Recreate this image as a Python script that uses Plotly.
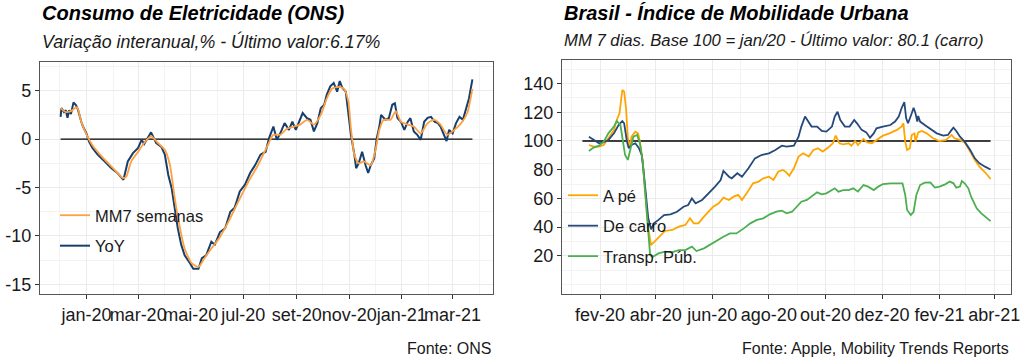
import pandas as pd
import plotly.graph_objects as go

# ---------------- Left panel: Consumo de Eletricidade (ONS) ----------------
yoy_dates = [
    "2019-12-02", "2019-12-03", "2019-12-06", "2019-12-08", "2019-12-10", "2019-12-12", "2019-12-14",
    "2019-12-17", "2019-12-20", "2019-12-22", "2019-12-26", "2019-12-28", "2020-01-01", "2020-01-04",
    "2020-01-08", "2020-01-14", "2020-01-22", "2020-01-30", "2020-02-06", "2020-02-13", "2020-02-18",
    "2020-02-24", "2020-03-01", "2020-03-05", "2020-03-08", "2020-03-12", "2020-03-16", "2020-03-22",
    "2020-03-28", "2020-04-01", "2020-04-05", "2020-04-09", "2020-04-12", "2020-04-16", "2020-04-20",
    "2020-04-24", "2020-04-30", "2020-05-04", "2020-05-10", "2020-05-14", "2020-05-19", "2020-05-25",
    "2020-05-29", "2020-06-04", "2020-06-10", "2020-06-16", "2020-06-21", "2020-06-27", "2020-07-03",
    "2020-07-09", "2020-07-15", "2020-07-21", "2020-07-27", "2020-07-31", "2020-08-05", "2020-08-09",
    "2020-08-13", "2020-08-18", "2020-08-23", "2020-08-27", "2020-08-31", "2020-09-03", "2020-09-08",
    "2020-09-13", "2020-09-17", "2020-09-21", "2020-09-25", "2020-09-29", "2020-10-03", "2020-10-06",
    "2020-10-10", "2020-10-14", "2020-10-18", "2020-10-21", "2020-10-24", "2020-10-28", "2020-10-31",
    "2020-11-03", "2020-11-07", "2020-11-09", "2020-11-12", "2020-11-16", "2020-11-20", "2020-11-23",
    "2020-11-26", "2020-11-30", "2020-12-03", "2020-12-06", "2020-12-08", "2020-12-13", "2020-12-17",
    "2020-12-21", "2020-12-24", "2020-12-27", "2020-12-31", "2021-01-04", "2021-01-08", "2021-01-11",
    "2021-01-15", "2021-01-19", "2021-01-23", "2021-01-27", "2021-01-31", "2021-02-04", "2021-02-08",
    "2021-02-12", "2021-02-15", "2021-02-19", "2021-02-22", "2021-02-25", "2021-03-01", "2021-03-05",
    "2021-03-09", "2021-03-13", "2021-03-17", "2021-03-20", "2021-03-24",
]
yoy_values = [
    2.3, 3.2, 2.8, 3.0, 2.2, 3.0, 2.6,
    3.8, 3.5, 3.1, 1.8, 1.3, 0.6, -0.25,
    -0.9, -1.6, -2.3, -3.0, -3.5, -4.2, -2.3,
    -1.45, -0.9, -0.07, -0.5, 0.1, 0.7, -0.4,
    -0.8, -1.6, -3.7, -5.1, -7.1, -9.2, -10.9,
    -12.0, -12.8, -13.4, -13.4, -12.3, -12.0, -10.6,
    -10.9, -9.6, -9.2, -7.5, -7.1, -5.4, -4.7,
    -3.5, -2.66, -1.6, -1.3, 0.1, 1.3, -0.07,
    0.6, 1.66, 0.96, 1.8, 0.96, 1.66, 2.7,
    2.17, 2.0, 0.8, 1.66, 3.2, 3.55, 4.6,
    5.45, 5.8, 4.9, 6.0, 5.3, 4.9, 2.86,
    0.45, -1.6, -3.0, -2.5, -1.3, -2.7, -3.5,
    -2.7, -2.0, 0.1, 1.3, 2.5, 2.0, 2.17,
    3.55, 3.7, 2.17, 1.8, 0.96, 1.8, 2.17,
    0.8, 0.45, -0.07, 1.8, 2.2, 2.3, 1.8,
    1.66, 1.3, 0.45, -0.2, 0.96, 0.6, 1.66,
    2.3, 2.0, 3.2, 4.2, 6.17,
]

mm7_dates = [
    "2019-12-02", "2019-12-08", "2019-12-14", "2019-12-21", "2019-12-26", "2020-01-02", "2020-01-10",
    "2020-01-22", "2020-02-03", "2020-02-12", "2020-02-16", "2020-02-22", "2020-03-01", "2020-03-08",
    "2020-03-16", "2020-03-24", "2020-04-01", "2020-04-07", "2020-04-12", "2020-04-18", "2020-04-24",
    "2020-05-02", "2020-05-10", "2020-05-17", "2020-05-25", "2020-06-04", "2020-06-14", "2020-06-25",
    "2020-07-07", "2020-07-18", "2020-07-28", "2020-08-05", "2020-08-13", "2020-08-21", "2020-08-29",
    "2020-09-05", "2020-09-13", "2020-09-21", "2020-09-29", "2020-10-06", "2020-10-12", "2020-10-20",
    "2020-10-26", "2020-10-31", "2020-11-03", "2020-11-07", "2020-11-12", "2020-11-18", "2020-11-26",
    "2020-12-02", "2020-12-06", "2020-12-11", "2020-12-19", "2020-12-25", "2020-12-31", "2021-01-08",
    "2021-01-15", "2021-01-23", "2021-01-31", "2021-02-08", "2021-02-15", "2021-02-23", "2021-03-03",
    "2021-03-11", "2021-03-18", "2021-03-24",
]
mm7_values = [
    3.2, 2.8, 2.9, 3.3, 1.8, 0.3, -0.9,
    -2.1, -3.2, -4.0, -3.9, -2.3, -1.3, -0.4,
    0.3, -0.4, -1.1, -2.7, -5.8, -8.9, -11.3,
    -12.8, -13.2, -12.3, -11.3, -10.1, -8.5, -6.5,
    -4.4, -2.7, -0.9, 0.45, 0.45, 1.1, 1.3,
    1.5, 2.0, 1.5, 2.5, 4.2, 5.2, 5.4,
    5.2, 3.9, 1.1, -1.6, -2.5, -2.3, -2.7,
    -0.9, 0.96, 2.0, 2.0, 2.9, 1.8, 1.5,
    1.3, 0.6, 1.66, 2.0, 1.5, 0.45, 0.96,
    1.66, 2.7, 5.2,
]
ons_reference = 0
ons_ticks = ["2020-01-01", "2020-03-01", "2020-05-01", "2020-07-01", "2020-09-01",
             "2020-11-01", "2021-01-01", "2021-03-01"]
ons_ticklabels = ["jan-20", "mar-20", "mai-20", "jul-20", "set-20", "nov-20", "jan-21", "mar-21"]
ons_yticks = [-15, -10, -5, 0, 5]
ons_yticklabels = ["-15", "-10", "-5", "0", "5"]

# ---------------- Right panel: Mobilidade (Apple) ----------------
mob_period = ["2020-01-13", "2021-03-28"]
mob_reference = 100

walk_dates = [
    "2020-01-20", "2020-01-25", "2020-01-31", "2020-02-05", "2020-02-10", "2020-02-16", "2020-02-19",
    "2020-02-22", "2020-02-25", "2020-02-27", "2020-02-29", "2020-03-02", "2020-03-04", "2020-03-06",
    "2020-03-10", "2020-03-13", "2020-03-15", "2020-03-18", "2020-03-21", "2020-03-24", "2020-03-27",
    "2020-04-01", "2020-04-06", "2020-04-11", "2020-04-19", "2020-04-26", "2020-05-03", "2020-05-08",
    "2020-05-12", "2020-05-17", "2020-05-23", "2020-05-28", "2020-06-02", "2020-06-08", "2020-06-13",
    "2020-06-19", "2020-06-24", "2020-06-29", "2020-07-03", "2020-07-08", "2020-07-15", "2020-07-21",
    "2020-07-26", "2020-08-01", "2020-08-06", "2020-08-11", "2020-08-16", "2020-08-19", "2020-08-23",
    "2020-08-28", "2020-09-02", "2020-09-07", "2020-09-13", "2020-09-18", "2020-09-23", "2020-09-28",
    "2020-10-04", "2020-10-09", "2020-10-12", "2020-10-16", "2020-10-20", "2020-10-26", "2020-10-29",
    "2020-11-02", "2020-11-05", "2020-11-11", "2020-11-15", "2020-11-20", "2020-11-25", "2020-12-02",
    "2020-12-09", "2020-12-17", "2020-12-22", "2020-12-24", "2020-12-26", "2020-12-28", "2020-12-31",
    "2021-01-02", "2021-01-05", "2021-01-06", "2021-01-09", "2021-01-13", "2021-01-18", "2021-01-25",
    "2021-02-01", "2021-02-08", "2021-02-14", "2021-02-17", "2021-02-23", "2021-02-28", "2021-03-06",
    "2021-03-11", "2021-03-16", "2021-03-22", "2021-03-28",
]
walk_values = [
    97.2, 96.0, 96.0, 97.2, 101.9, 107.7, 114.6,
    119.3, 135.5, 134.4, 122.8, 101.9, 96.0, 103.0,
    106.5, 105.3, 99.5, 85.6, 62.4, 39.1, 27.5,
    31.0, 34.5, 37.3, 38.0, 40.3, 41.5, 46.1,
    42.6, 42.6, 47.3, 50.7, 54.2, 56.6, 60.5,
    58.9, 61.2, 62.4, 58.9, 63.5, 70.5, 71.7,
    74.0, 75.1, 72.8, 78.6, 79.8, 78.6, 75.8,
    81.0, 89.1, 91.4, 89.1, 93.7, 94.9, 92.6,
    95.4, 98.4, 103.7, 98.4, 97.7, 98.4, 96.7,
    100.0, 97.2, 101.4, 99.0, 98.4, 100.7, 103.7,
    105.3, 107.7, 110.0, 112.3, 99.5, 93.7, 94.9,
    104.2, 105.3, 99.5, 106.0, 107.0, 105.3, 101.9,
    100.0, 100.7, 104.2, 101.9, 100.7, 99.0, 92.6,
    86.8, 82.1, 78.2, 73.5,
]

car_dates = [
    "2020-01-20", "2020-01-25", "2020-01-31", "2020-02-05", "2020-02-10", "2020-02-16", "2020-02-21",
    "2020-02-25", "2020-02-27", "2020-03-01", "2020-03-03", "2020-03-06", "2020-03-10", "2020-03-14",
    "2020-03-17", "2020-03-19", "2020-03-22", "2020-03-24", "2020-03-27", "2020-03-30", "2020-04-04",
    "2020-04-10", "2020-04-17", "2020-04-24", "2020-05-01", "2020-05-06", "2020-05-10", "2020-05-14",
    "2020-05-21", "2020-05-28", "2020-06-04", "2020-06-10", "2020-06-13", "2020-06-19", "2020-06-22",
    "2020-06-28", "2020-07-03", "2020-07-10", "2020-07-17", "2020-07-24", "2020-08-01", "2020-08-08",
    "2020-08-15", "2020-08-20", "2020-08-28", "2020-09-02", "2020-09-05", "2020-09-09", "2020-09-13",
    "2020-09-16", "2020-09-22", "2020-09-27", "2020-10-02", "2020-10-08", "2020-10-11", "2020-10-14",
    "2020-10-17", "2020-10-22", "2020-10-27", "2020-11-01", "2020-11-04", "2020-11-09", "2020-11-14",
    "2020-11-18", "2020-11-22", "2020-11-25", "2020-12-02", "2020-12-10", "2020-12-15", "2020-12-19",
    "2020-12-22", "2020-12-25", "2020-12-27", "2020-12-29", "2021-01-02", "2021-01-04", "2021-01-06",
    "2021-01-08", "2021-01-09", "2021-01-11", "2021-01-16", "2021-01-22", "2021-01-29", "2021-02-05",
    "2021-02-10", "2021-02-14", "2021-02-16", "2021-02-19", "2021-02-23", "2021-02-28", "2021-03-06",
    "2021-03-11", "2021-03-16", "2021-03-22", "2021-03-28",
]
car_values = [
    103.0, 100.7, 98.4, 99.1, 100.7, 105.3, 111.1,
    113.9, 112.3, 99.5, 94.9, 97.2, 98.4, 94.9,
    90.2, 78.6, 60.0, 46.1, 38.5, 42.6, 45.0,
    48.4, 48.9, 50.7, 54.2, 55.4, 60.0, 56.6,
    58.9, 63.5, 68.2, 72.8, 79.1, 75.1, 74.0,
    77.5, 75.1, 81.0, 87.9, 90.2, 91.4, 93.7,
    96.7, 96.0, 96.7, 103.0, 110.0, 117.0, 113.5,
    110.0, 110.0, 107.0, 106.5, 110.0, 117.0, 120.4,
    114.6, 110.0, 110.0, 114.6, 112.3, 107.7, 106.0,
    102.3, 105.3, 108.8, 110.0, 111.1, 113.5, 117.0,
    122.8, 127.0, 115.8, 112.3, 119.3, 123.2, 119.3,
    113.5, 117.4, 113.5, 111.1, 108.4, 105.3, 103.7,
    104.2, 107.7, 109.3, 107.0, 103.0, 99.5, 93.7,
    87.9, 84.4, 82.1, 80.1,
]

transit_dates = [
    "2020-01-20", "2020-01-25", "2020-01-31", "2020-02-05", "2020-02-10", "2020-02-16", "2020-02-19",
    "2020-02-23", "2020-02-26", "2020-02-28", "2020-03-02", "2020-03-05", "2020-03-08", "2020-03-12",
    "2020-03-15", "2020-03-18", "2020-03-21", "2020-03-24", "2020-03-26", "2020-03-29", "2020-04-04",
    "2020-04-11", "2020-04-18", "2020-04-26", "2020-05-03", "2020-05-10", "2020-05-15", "2020-05-23",
    "2020-05-30", "2020-06-06", "2020-06-13", "2020-06-20", "2020-06-27", "2020-07-05", "2020-07-12",
    "2020-07-19", "2020-07-26", "2020-08-02", "2020-08-09", "2020-08-15", "2020-08-20", "2020-08-26",
    "2020-08-31", "2020-09-05", "2020-09-11", "2020-09-16", "2020-09-22", "2020-09-27", "2020-10-02",
    "2020-10-08", "2020-10-11", "2020-10-15", "2020-10-20", "2020-10-26", "2020-10-31", "2020-11-05",
    "2020-11-11", "2020-11-16", "2020-11-22", "2020-11-27", "2020-12-02", "2020-12-10", "2020-12-17",
    "2020-12-23", "2020-12-26", "2020-12-28", "2021-01-01", "2021-01-04", "2021-01-07", "2021-01-11",
    "2021-01-16", "2021-01-22", "2021-01-27", "2021-02-01", "2021-02-07", "2021-02-12", "2021-02-16",
    "2021-02-19", "2021-02-23", "2021-02-25", "2021-02-28", "2021-03-04", "2021-03-07", "2021-03-13",
    "2021-03-18", "2021-03-24", "2021-03-28",
]
transit_values = [
    93.0, 95.4, 96.7, 99.5, 105.3, 110.0, 113.9,
    111.1, 98.4, 90.2, 86.8, 96.0, 103.0, 104.2,
    98.4, 85.6, 60.0, 36.8, 20.5, 19.4, 21.7,
    22.9, 22.4, 24.0, 24.0, 26.4, 23.3, 25.2,
    28.0, 31.0, 33.3, 35.6, 35.6, 39.1, 42.6,
    45.0, 46.1, 48.9, 50.7, 51.5, 49.6, 50.7,
    54.2, 57.7, 58.9, 61.2, 64.2, 62.8, 63.5,
    65.8, 67.0, 64.7, 65.8, 65.8, 67.0, 64.7,
    69.3, 68.2, 65.8, 68.2, 70.0, 70.5, 70.5,
    70.5, 62.4, 51.9, 48.4, 50.7, 62.4, 69.3,
    71.0, 71.2, 67.5, 68.2, 69.8, 71.7, 70.5,
    67.5, 68.2, 72.1, 70.5, 67.0, 61.2, 53.1,
    49.6, 46.6, 44.2,
]
mob_ticks = ["2020-02-01", "2020-04-01", "2020-06-01", "2020-08-01", "2020-10-01",
             "2020-12-01", "2021-02-01", "2021-04-01"]
mob_ticklabels = ["fev-20", "abr-20", "jun-20", "ago-20", "out-20", "dez-20", "fev-21", "abr-21"]
mob_yticks = [20, 40, 60, 80, 100, 120, 140]
mob_yticklabels = ["20", "40", "60", "80", "100", "120", "140"]

# ---------------- styling ----------------
W, H = 1024, 363
FONT = "Arial, Liberation Sans, sans-serif"
TXT = "#1a1a1a"
ORANGE_L = "#FFA040"
BLUE_L = "#163F6E"
ORANGE_R = "#FFA500"
BLUE_R = "#25497A"
GREEN_R = "#4CAF50"
GRID = "#EBEBEB"
GRID_MINOR = "#F3F3F3"
BORDER = "#555555"


def px(x):
    return x / W


def py(y):
    return 1 - y / H


def expanded(dates, frac=0.05):
    d = pd.to_datetime(pd.Series(dates))
    span = d.max() - d.min()
    return [d.min() - span * frac, d.max() + span * frac]


fig = go.Figure()

# left panel
fig.add_trace(go.Scatter(x=[yoy_dates[0], yoy_dates[-1]], y=[ons_reference, ons_reference],
                         mode="lines", line=dict(color="black", width=1.4),
                         showlegend=False, hoverinfo="skip", xaxis="x", yaxis="y"))
fig.add_trace(go.Scatter(x=yoy_dates, y=yoy_values, mode="lines", name="YoY",
                         line=dict(color=BLUE_L, width=2), legend="legend", legendgroup="yoy",
                         legendrank=2, xaxis="x", yaxis="y"))
fig.add_trace(go.Scatter(x=mm7_dates, y=mm7_values, mode="lines", name="MM7 semanas",
                         line=dict(color=ORANGE_L, width=1.8, shape="spline", smoothing=0.6),
                         legend="legend", legendgroup="mm7", legendrank=1, xaxis="x", yaxis="y"))

# right panel
fig.add_trace(go.Scatter(x=mob_period, y=[mob_reference, mob_reference], mode="lines",
                         line=dict(color="black", width=1.4), showlegend=False,
                         hoverinfo="skip", xaxis="x2", yaxis="y2"))
fig.add_trace(go.Scatter(x=walk_dates, y=walk_values, mode="lines", name="A pé",
                         line=dict(color=ORANGE_R, width=1.8), legend="legend2",
                         legendgroup="walk", legendrank=1, xaxis="x2", yaxis="y2"))
fig.add_trace(go.Scatter(x=car_dates, y=car_values, mode="lines", name="De carro",
                         line=dict(color=BLUE_R, width=1.8), legend="legend2",
                         legendgroup="car", legendrank=2, xaxis="x2", yaxis="y2"))
fig.add_trace(go.Scatter(x=transit_dates, y=transit_values, mode="lines", name="Transp. Púb.",
                         line=dict(color=GREEN_R, width=1.8), legend="legend2",
                         legendgroup="transit", legendrank=3, xaxis="x2", yaxis="y2"))


def xaxis_style(domain, rng, ticks, labels, anchor):
    return dict(domain=domain, range=rng, type="date", anchor=anchor,
                tickmode="array", tickvals=ticks, ticktext=labels, tickangle=0,
                showgrid=True, gridcolor=GRID, gridwidth=1.3,
                minor=dict(dtick="M1", tick0="2019-12-01", showgrid=True,
                           gridcolor=GRID_MINOR, gridwidth=0.8, ticks=""),
                ticks="outside", ticklen=4, tickcolor="#333333", tickwidth=1,
                showline=True, mirror=True, linecolor=BORDER, linewidth=1.2,
                zeroline=False, automargin=False,
                tickfont=dict(family=FONT, size=18, color=TXT))


def yaxis_style(domain, rng, ticks, labels, minor_dtick, anchor):
    return dict(domain=domain, range=rng, anchor=anchor,
                tickmode="array", tickvals=ticks, ticktext=labels,
                showgrid=True, gridcolor=GRID, gridwidth=1.3,
                minor=dict(dtick=minor_dtick, tick0=0, showgrid=True,
                           gridcolor=GRID_MINOR, gridwidth=0.8, ticks=""),
                ticks="outside", ticklen=4, tickcolor="#333333", tickwidth=1,
                showline=True, mirror=True, linecolor=BORDER, linewidth=1.2,
                zeroline=False, automargin=False,
                tickfont=dict(family=FONT, size=18, color=TXT))


fig.update_layout(
    width=W, height=H,
    margin=dict(l=0, r=0, t=0, b=0),
    paper_bgcolor="white", plot_bgcolor="white",
    font=dict(family=FONT, color=TXT),
    xaxis=xaxis_style([px(40), px(493)], expanded(yoy_dates), ons_ticks, ons_ticklabels, "y"),
    yaxis=yaxis_style([py(294), py(61.7)], [-16, 8], ons_yticks, ons_yticklabels, 2.5, "x"),
    xaxis2=xaxis_style([px(562), px(1011)], expanded(mob_period), mob_ticks, mob_ticklabels, "y2"),
    yaxis2=yaxis_style([py(294), py(60)], [-6.6, 156.4], mob_yticks, mob_yticklabels, 10, "x2"),
    legend=dict(x=px(55), y=py(198), xanchor="left", yanchor="top",
                bgcolor="rgba(0,0,0,0)", font=dict(family=FONT, size=16.5, color=TXT),
                tracegroupgap=6, itemwidth=30),
    legend2=dict(x=px(563), y=py(178), xanchor="left", yanchor="top",
                 bgcolor="rgba(0,0,0,0)", font=dict(family=FONT, size=16.5, color=TXT),
                 tracegroupgap=6, itemwidth=30),
    shapes=[
        dict(type="rect", xref="paper", yref="paper", layer="between",
             x0=px(57), x1=px(91), y0=py(262), y1=py(198),
             fillcolor="white", line=dict(width=0)),
        dict(type="rect", xref="paper", yref="paper", layer="between",
             x0=px(566), x1=px(599), y0=py(272), y1=py(178),
             fillcolor="white", line=dict(width=0)),
    ],
    annotations=[
        dict(text="<b><i>Consumo de Eletricidade (ONS)</i></b>", x=px(40), y=py(13),
             xref="paper", yref="paper", xanchor="left", yanchor="middle", showarrow=False,
             font=dict(family=FONT, size=20, color="black")),
        dict(text="<i>Variação interanual,% - Último valor:6.17%</i>", x=px(40), y=py(41),
             xref="paper", yref="paper", xanchor="left", yanchor="middle", showarrow=False,
             font=dict(family=FONT, size=17.8, color=TXT)),
        dict(text="<b><i>Brasil - Índice de Mobilidade Urbana</i></b>", x=px(562), y=py(13),
             xref="paper", yref="paper", xanchor="left", yanchor="middle", showarrow=False,
             font=dict(family=FONT, size=20, color="black")),
        dict(text="<i>MM 7 dias. Base 100 = jan/20 - Último valor: 80.1 (carro)</i>", x=px(562),
             y=py(40), xref="paper", yref="paper", xanchor="left", yanchor="middle",
             showarrow=False, font=dict(family=FONT, size=16.7, color=TXT)),
        dict(text="Fonte: ONS", x=px(493), y=py(348), xref="paper", yref="paper",
             xanchor="right", yanchor="middle", showarrow=False,
             font=dict(family=FONT, size=16, color=TXT)),
        dict(text="Fonte: Apple, Mobility Trends Reports", x=px(1011), y=py(348),
             xref="paper", yref="paper", xanchor="right", yanchor="middle", showarrow=False,
             font=dict(family=FONT, size=16, color=TXT)),
    ],
)

# remove the browser's default 8px page margin so the 1024x363 figure fills the window
fig.write_html("out.html", config={"displayModeBar": False},
               post_script="document.body.style.margin='0';")
